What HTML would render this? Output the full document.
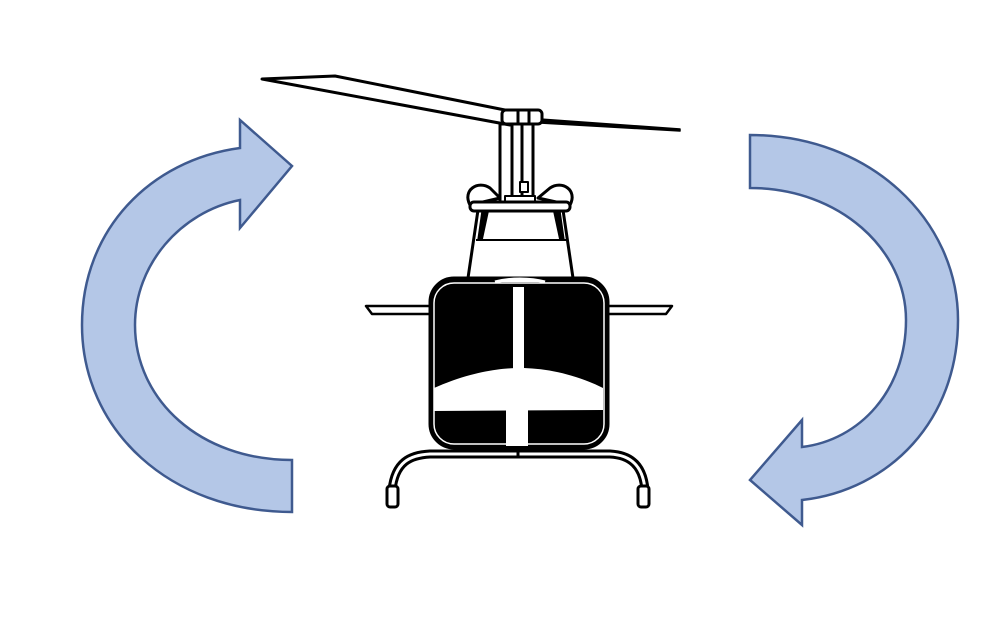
<!DOCTYPE html>
<html><head><style>html,body{margin:0;padding:0;background:#fff}svg{display:block}</style></head>
<body>
<svg width="1008" height="620" viewBox="0 0 1008 620" xmlns="http://www.w3.org/2000/svg">
<g fill="#b4c7e7" stroke="#3f5a8f" stroke-width="2.5" stroke-linejoin="miter">
<path d="M292,512 C170,512 82,430 82,325 C82,230 150,160 240,148 L240,120 L292,166 L240,228 L240,200 C180,212 135,265 135,325 C135,400 200,460 292,460 Z"/>
<path d="M750,135 C870,135 958,220 958,320 C958,420 890,490 802,500 L802,525 L750,480 L802,420 L802,447 C860,440 906,390 906,320 C906,250 840,188 750,188 Z"/>
</g>
<g stroke="#000" stroke-width="3" fill="#fff" stroke-linejoin="round">
<path d="M392,490 C395,462 410,455 430,454 L610,454 C630,455 643,465 645,490" fill="none" stroke-width="9"/>
<path d="M392,490 C395,462 410,455 430,454 L610,454 C630,455 643,465 645,490" fill="none" stroke="#fff" stroke-width="3"/>
<rect x="387" y="486" width="11" height="21" rx="3"/>
<rect x="638" y="486" width="11" height="21" rx="3"/>
<line x1="518" y1="445" x2="518" y2="456"/>
<path d="M366,306 L436,306 L436,314 L372,314 Z" stroke-width="2.5"/>
<path d="M603,306 L672,306 L666,314 L603,314 Z" stroke-width="2.5"/>
<path d="M478,210 L563,210 L573,278 L468,278 Z"/>
<path d="M482,212 L488,212 L482,240 L478,240 Z" fill="#000" stroke-width="1.5"/>
<path d="M554,212 L560,212 L564,240 L560,240 Z" fill="#000" stroke-width="1.5"/>
<line x1="476" y1="240" x2="566" y2="240" stroke-width="2"/>
<rect x="500" y="124" width="33" height="78"/>
<line x1="512" y1="124" x2="512" y2="200"/>
<line x1="522" y1="124" x2="522" y2="200"/>
<rect x="520" y="182" width="8" height="10" stroke-width="2"/>
<path d="M470,205 C462,190 478,180 490,188 L500,198 Z"/>
<path d="M570,205 C578,190 562,180 550,188 L538,198 Z"/>
<rect x="505" y="196" width="30" height="8" fill="#fff" stroke-width="2"/>
<rect x="470" y="202" width="100" height="9" rx="4"/>
<path d="M262,79 L335,76 L515,112 L510,125 Z" stroke-width="3"/>
<path d="M540,119 L680,129 L680,131 L540,123 Z" fill="#000" stroke-width="1.5"/>
<rect x="502" y="110" width="40" height="14" rx="4"/>
<line x1="518" y1="110" x2="518" y2="124"/>
<line x1="529" y1="110" x2="529" y2="124"/>
<rect x="430" y="278" width="178" height="170" rx="24" fill="#000"/>
<rect x="434" y="283" width="170" height="161" rx="20" fill="none" stroke="#fff" stroke-width="1.5"/>
<path d="M434,388 C470,372 500,368 520,368 C545,368 575,374 603,388 L603,410 L434,411 Z" fill="#fff" stroke="none"/>
<rect x="513" y="287" width="11" height="83" fill="#fff" stroke="none"/>
<rect x="506" y="408" width="22" height="38" fill="#fff" stroke="none"/>
<path d="M495,282 C510,278 530,278 545,282" fill="#fff" stroke="#fff" stroke-width="3"/>
</g>
</svg>
</body></html>
